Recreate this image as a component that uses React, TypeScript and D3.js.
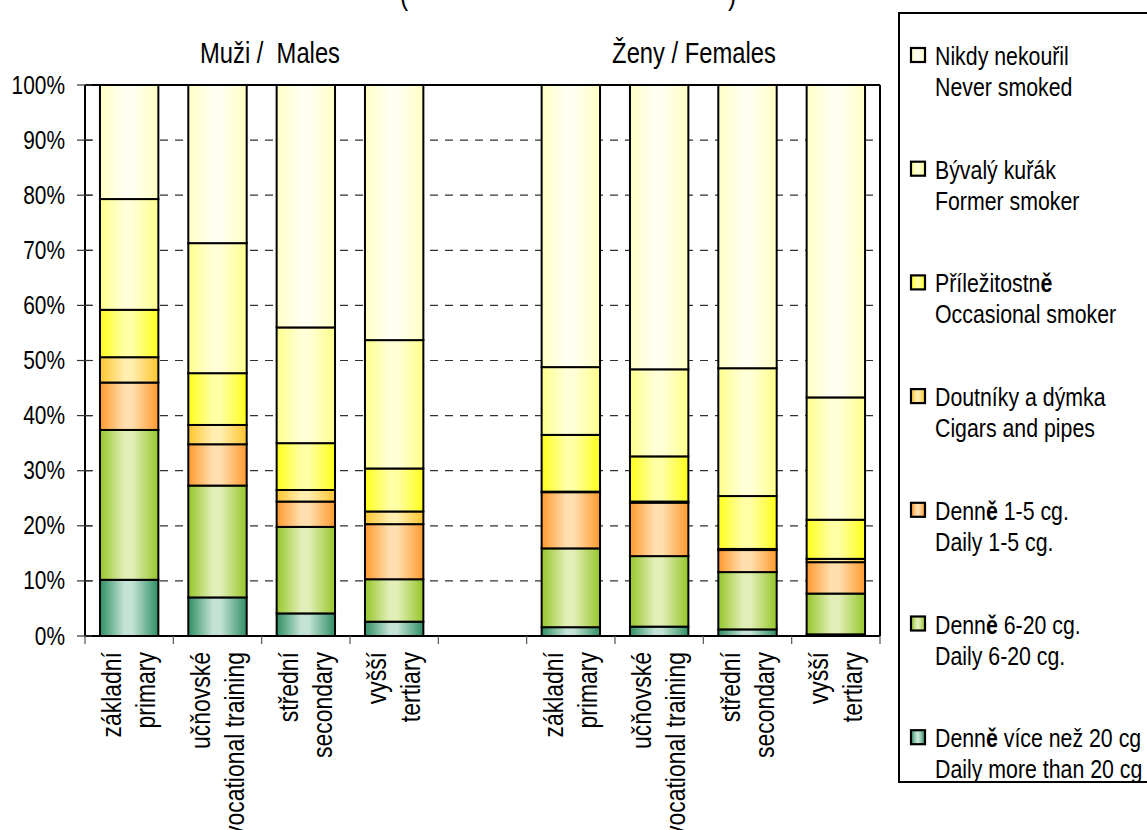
import React from "react";
import * as d3 from "d3";

const slots = ["M0", "M1", "M2", "M3", "gap", "F0", "F1", "F2", "F3"];
const barSlots = ["M0", "M1", "M2", "M3", "F0", "F1", "F2", "F3"];
const catLine1 = ["základní", "učňovské", "střední", "vyšší", "základní", "učňovské", "střední", "vyšší"];
const catLine2 = ["primary", "vocational training", "secondary", "tertiary", "primary", "vocational training", "secondary", "tertiary"];

const dailyOver20 = [10.2, 7.0, 4.1, 2.6, 1.6, 1.7, 1.2, 0.3];
const daily6to20 = [27.2, 20.3, 15.7, 7.7, 14.3, 12.8, 10.4, 7.4];
const daily1to5 = [8.6, 7.5, 4.6, 10.0, 10.2, 9.7, 4.0, 5.7];
const cigars = [4.6, 3.5, 2.1, 2.3, 0.1, 0.2, 0.2, 0.6];
const occasional = [8.6, 9.4, 8.5, 7.8, 10.3, 8.2, 9.6, 7.1];
const former = [20.1, 23.6, 21.0, 23.3, 12.3, 15.8, 23.2, 22.2];
const never = [20.7, 28.7, 44.0, 46.3, 51.2, 51.6, 51.4, 56.7];

const seriesKeys = ["over20", "d6to20", "d1to5", "cigars", "occasional", "former", "never"];
const seriesValues = [dailyOver20, daily6to20, daily1to5, cigars, occasional, former, never];
const seriesEdge = ["#2f8f63", "#96c62a", "#ff9a2e", "#ffc52e", "#ffff1a", "#ffff8c", "#ffffc4"];
const seriesLight = ["#c4e3d6", "#e2efb8", "#ffdfb0", "#ffeeb0", "#ffffa6", "#ffffd8", "#fffff2"];

const legendCz = ["Nikdy nekouřil", "Bývalý kuřák", "Příležitostně", "Doutníky a dýmka", "Denně 1-5 cg.", "Denně 6-20 cg.", "Denně více než 20 cg"];
const legendEn = ["Never smoked", "Former smoker", "Occasional smoker", "Cigars and pipes", "Daily 1-5 cg.", "Daily 6-20 cg.", "Daily more than 20 cg"];
const legendKeys = ["never", "former", "occasional", "cigars", "d1to5", "d6to20", "over20"];

const yTicks = [0, 10, 20, 30, 40, 50, 60, 70, 80, 90, 100];

const FONT = "'Liberation Sans', Arial, sans-serif";
const SX = 0.82;

function NText({ x, y, size, anchor = "start", rotate = 0, children }: any) {
  return (
    <g transform={`translate(${x},${y}) rotate(${rotate}) scale(${SX},1)`}>
      <text fontFamily={FONT} fontSize={size} textAnchor={anchor} fill="#000" style={{ whiteSpace: "pre" }}>
        {children}
      </text>
    </g>
  );
}

// renders "ě" in bold, as in the reference's legend
function withBoldE(s: string) {
  const parts = s.split("ě");
  const out: any[] = [];
  parts.forEach((p, i) => {
    out.push(<tspan key={`p${i}`}>{p}</tspan>);
    if (i < parts.length - 1) out.push(<tspan key={`e${i}`} fontWeight="bold">ě</tspan>);
  });
  return out;
}

export default function App() {
  const W = 1147, H = 830;
  const left = 85, right = 880, top = 85, bottom = 636;

  const x = d3.scaleBand<string>().domain(slots).range([left, right]).paddingInner(0.339).paddingOuter(0.1695);
  const y = d3.scaleLinear().domain([0, 100]).range([bottom, top]);

  const rows = barSlots.map((s, i) => {
    const r: any = { slot: s };
    seriesKeys.forEach((k, j) => (r[k] = seriesValues[j][i]));
    return r;
  });
  const stacked = d3.stack<any>().keys(seriesKeys)(rows);

  const step = x.step();
  const boundaries = d3.range(slots.length + 1).map((i) => left + i * step);

  return (
    <svg width={W} height={H} style={{ position: "absolute", left: 0, top: 0, background: "#fff" }}>
      <defs>
        {seriesKeys.map((k, j) => (
          <linearGradient key={k} id={`g-${k}`} x1="0" x2="1" y1="0" y2="0">
            <stop offset="0" stopColor={seriesEdge[j]} />
            <stop offset="0.42" stopColor={seriesLight[j]} />
            <stop offset="0.55" stopColor={seriesLight[j]} />
            <stop offset="1" stopColor={seriesEdge[j]} />
          </linearGradient>
        ))}
      </defs>
      <rect x={0} y={0} width={W} height={H} fill="#fff" />

      {/* title mostly above the visible area: only its parentheses' descenders show */}
      <NText x={404} y={5} size={30} anchor="middle">(</NText>
      <NText x={732} y={5} size={30} anchor="middle">)</NText>

      {/* group labels */}
      <NText x={270} y={63} size={29} anchor="middle">{"Muži /\u00a0 Males"}</NText>
      <NText x={694} y={63} size={29} anchor="middle">Ženy / Females</NText>

      {/* gridlines */}
      {yTicks.filter((t) => t > 0 && t < 100).map((t) => (
        <line key={t} x1={left} x2={right} y1={y(t)} y2={y(t)} stroke="#333" strokeWidth={1.2} strokeDasharray="8,7" />
      ))}

      {/* bars */}
      {stacked.map((layer, j) => (
        <g key={layer.key}>
          {layer.map((d: any, i: number) => (
            <rect
              key={i}
              x={x(d.data.slot)}
              y={y(d[1])}
              width={x.bandwidth()}
              height={Math.max(0, y(d[0]) - y(d[1]))}
              fill={`url(#g-${seriesKeys[j]})`}
              stroke="#000"
              strokeWidth={2}
            />
          ))}
        </g>
      ))}

      {/* plot frame */}
      <line x1={left} x2={right} y1={top} y2={top} stroke="#000" strokeWidth={2} />
      <line x1={right} x2={right} y1={top} y2={bottom} stroke="#000" strokeWidth={2} />
      <line x1={left} x2={left} y1={top} y2={bottom} stroke="#000" strokeWidth={2} />
      <line x1={left} x2={right} y1={bottom} y2={bottom} stroke="#000" strokeWidth={2} />

      {/* y ticks + labels */}
      {yTicks.map((t) => (
        <g key={t}>
          <line x1={left - 8} x2={left + 7} y1={y(t)} y2={y(t)} stroke="#333" strokeWidth={1.2} />
          <NText x={left - 20} y={y(t) + 8.5} size={25.5} anchor="end">{`${t}%`}</NText>
        </g>
      ))}

      {/* x ticks */}
      {boundaries.map((b, i) => (
        <line key={i} x1={b} x2={b} y1={bottom} y2={bottom + 8} stroke="#555" strokeWidth={1.2} />
      ))}

      {/* x labels */}
      {barSlots.map((s, i) => {
        const cx = (x(s) as number) + x.bandwidth() / 2;
        return (
          <g key={s}>
            <NText x={cx - 8} y={652} size={28} anchor="end" rotate={-90}>{catLine1[i]}</NText>
            <NText x={cx + 26} y={652} size={28} anchor="end" rotate={-90}>{catLine2[i]}</NText>
          </g>
        );
      })}

      {/* legend */}
      <rect x={899} y={13} width={270} height={769} fill="#fff" stroke="#000" strokeWidth={2} />
      {legendKeys.map((k, i) => {
        const base = 65 + i * 113.7;
        return (
          <g key={k}>
            <rect x={911} y={base - 17} width={14} height={14} fill={`url(#g-${k})`} stroke="#000" strokeWidth={2.2} />
            <NText x={935} y={base} size={26}>{withBoldE(legendCz[i])}</NText>
            <NText x={935} y={base + 31} size={26}>{legendEn[i]}</NText>
          </g>
        );
      })}
    </svg>
  );
}
